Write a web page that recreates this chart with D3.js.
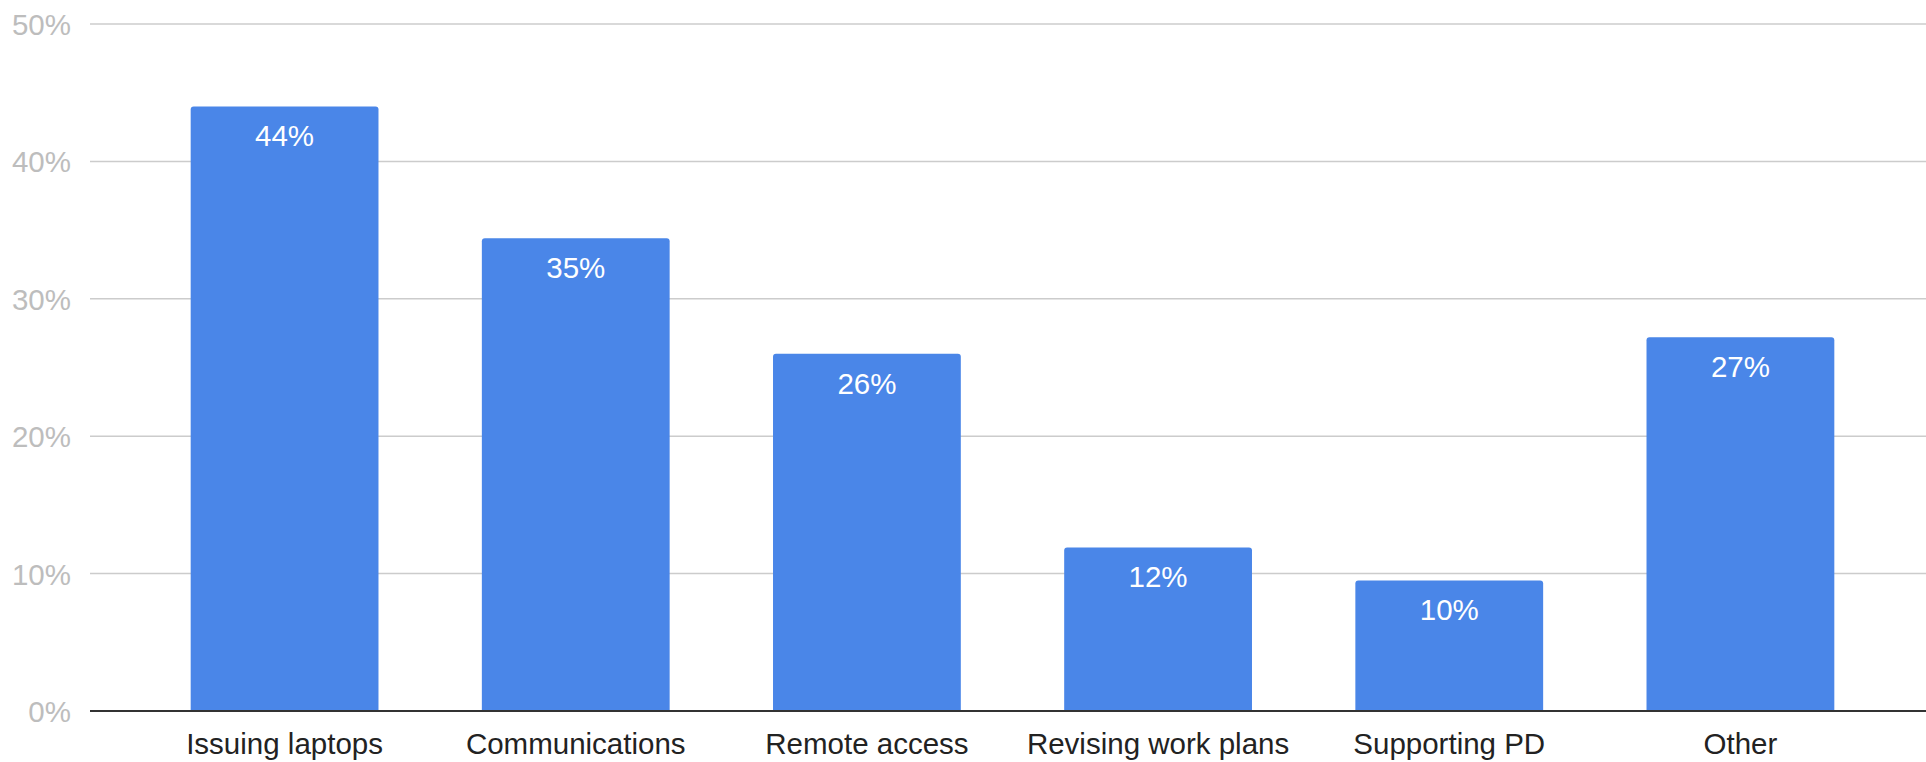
<!DOCTYPE html>
<html>
<head>
<meta charset="utf-8">
<script src="https://cdn.jsdelivr.net/npm/d3@7"></script>
<style>
  html, body { margin: 0; padding: 0; background: #fff; }
  svg { display: block; font-family: "Liberation Sans", Arial, sans-serif; }
</style>
</head>
<body>
<svg id="chart" width="1926" height="762"></svg>
<script>
const categories = ["Issuing laptops", "Communications", "Remote access", "Revising work plans", "Supporting PD", "Other"];
const values = [44, 34.4, 26, 11.9, 9.5, 27.2];
const valueLabels = ["44%", "35%", "26%", "12%", "10%", "27%"];
const yTicks = [0, 10, 20, 30, 40, 50];
const yTickLabels = ["0%", "10%", "20%", "30%", "40%", "50%"];

const svg = d3.select("#chart");
const plotLeft = 90, plotRight = 1926;
const fs = 29.5;

const y = d3.scaleLinear().domain([0, 50]).range([711, 24]);
const x = d3.scaleBand().domain(categories).range([139, 1886]).paddingInner(0.355).paddingOuter(0.1775);

// gridlines
svg.append("g").selectAll("line").data(yTicks.filter(d => d !== 0)).join("line")
  .attr("x1", plotLeft).attr("x2", plotRight)
  .attr("y1", d => y(d)).attr("y2", d => y(d))
  .attr("stroke", "#cccccc").attr("stroke-width", 1.5);

// y tick labels
svg.append("g").selectAll("text").data(yTicks).join("text")
  .attr("x", 71).attr("y", d => y(d) + 11)
  .attr("text-anchor", "end")
  .attr("font-size", fs).attr("fill", "#bdbdbd")
  .text((d, i) => yTickLabels[i]);

// bars with slightly rounded top corners
const r = 3;
svg.append("g").selectAll("path").data(categories).join("path")
  .attr("fill", "#4a86e8")
  .attr("d", (c, i) => {
    const x0 = x(c), x1 = x(c) + x.bandwidth(), yt = y(values[i]), yb = y(0);
    return `M${x0},${yb} L${x0},${yt + r} Q${x0},${yt} ${x0 + r},${yt} L${x1 - r},${yt} Q${x1},${yt} ${x1},${yt + r} L${x1},${yb} Z`;
  });

// value labels
svg.append("g").selectAll("text").data(categories).join("text")
  .attr("x", c => x(c) + x.bandwidth() / 2)
  .attr("y", (c, i) => y(values[i]) + 40)
  .attr("text-anchor", "middle")
  .attr("font-size", fs).attr("fill", "#ffffff")
  .text((c, i) => valueLabels[i]);

// baseline
svg.append("line")
  .attr("x1", plotLeft).attr("x2", plotRight)
  .attr("y1", y(0)).attr("y2", y(0))
  .attr("stroke", "#333333").attr("stroke-width", 2);

// category labels
svg.append("g").selectAll("text").data(categories).join("text")
  .attr("x", c => x(c) + x.bandwidth() / 2)
  .attr("y", 754)
  .attr("text-anchor", "middle")
  .attr("font-size", fs).attr("fill", "#222222")
  .text(c => c);
</script>
</body>
</html>
